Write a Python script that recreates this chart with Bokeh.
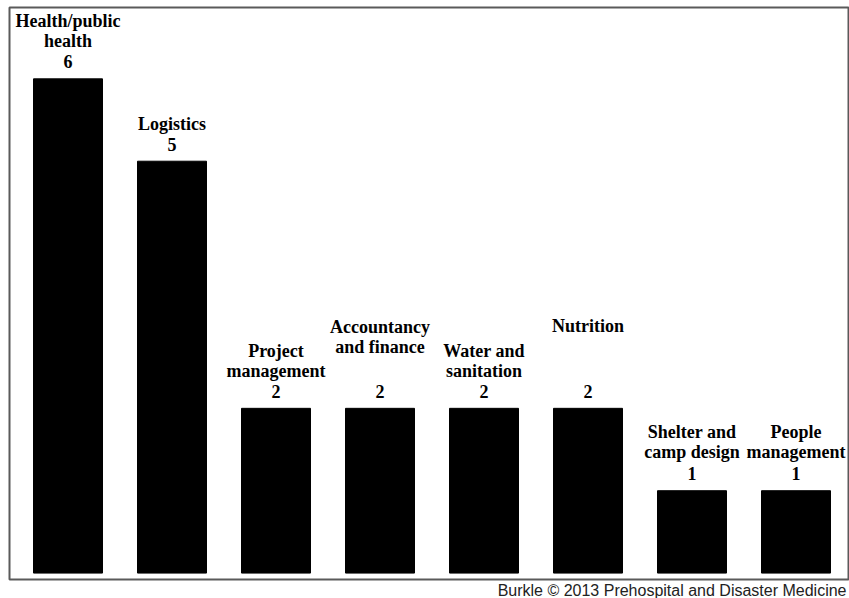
from bokeh.plotting import figure
from bokeh.models import ColumnDataSource, Range1d, Title
from bokeh.core.properties import value
from bokeh.embed import file_html
from bokeh.resources import INLINE

# ---- data ----
categories = ["Health/public\nhealth", "Logistics", "Project\nmanagement",
              "Accountancy\nand finance", "Water and\nsanitation", "Nutrition",
              "Shelter and\ncamp design", "People\nmanagement"]
counts = [6, 5, 2, 2, 2, 2, 1, 1]
credit = "Burkle \u00a9 2013 Prehospital and Disaster Medicine"

# ---- layout (pixels) ----
label_lift = [1, 0, 0, 24, 0, 45, 2, 2]   # extra lift of the name above the count
num_gap = 17       # count baseline above bar top
line_step = 20     # line spacing

W, H = 849, 598
p = figure(width=W, height=H, output_backend="svg", toolbar_location=None,
           x_range=Range1d(-0.5625, 7.5048), y_range=Range1d(-0.0778, 6.866),
           min_border_left=9, min_border_right=1, min_border_top=7,
           min_border_bottom=19)
p.axis.visible = False
p.xgrid.visible = False
p.ygrid.visible = False
p.background_fill_color = "white"
p.border_fill_color = "white"
p.outline_line_color = "#5a5a5a"
p.outline_line_width = 2

xs = list(range(len(counts)))
src = ColumnDataSource(dict(x=xs, top=counts))
p.vbar(x="x", top="top", bottom=0, width=69 / 104, source=src,
       fill_color="black", line_color="black")

tx, ty, tt, toff = [], [], [], []
for i, (cat, n) in enumerate(zip(categories, counts)):
    tx.append(i); ty.append(n); tt.append(str(n)); toff.append(-num_gap)
    lines = cat.split("\n")
    for k, line in enumerate(reversed(lines)):
        tx.append(i); ty.append(n); tt.append(line)
        toff.append(-(num_gap + line_step * (k + 1) + label_lift[i]))

tsrc = ColumnDataSource(dict(x=tx, y=ty, t=tt, off=toff))
p.text(x="x", y="y", text="t", y_offset="off", source=tsrc,
       text_align="center", text_baseline="alphabetic",
       text_font=value("Liberation Serif"), text_font_style="bold",
       text_font_size="18px", text_color="black")

p.add_layout(Title(text=credit, align="right", text_font="Liberation Sans",
                   text_font_size="16px", text_font_style="normal",
                   text_color="#222222", standoff=0, offset=2), "below")

open("out.html", "w").write(file_html(p, INLINE))
